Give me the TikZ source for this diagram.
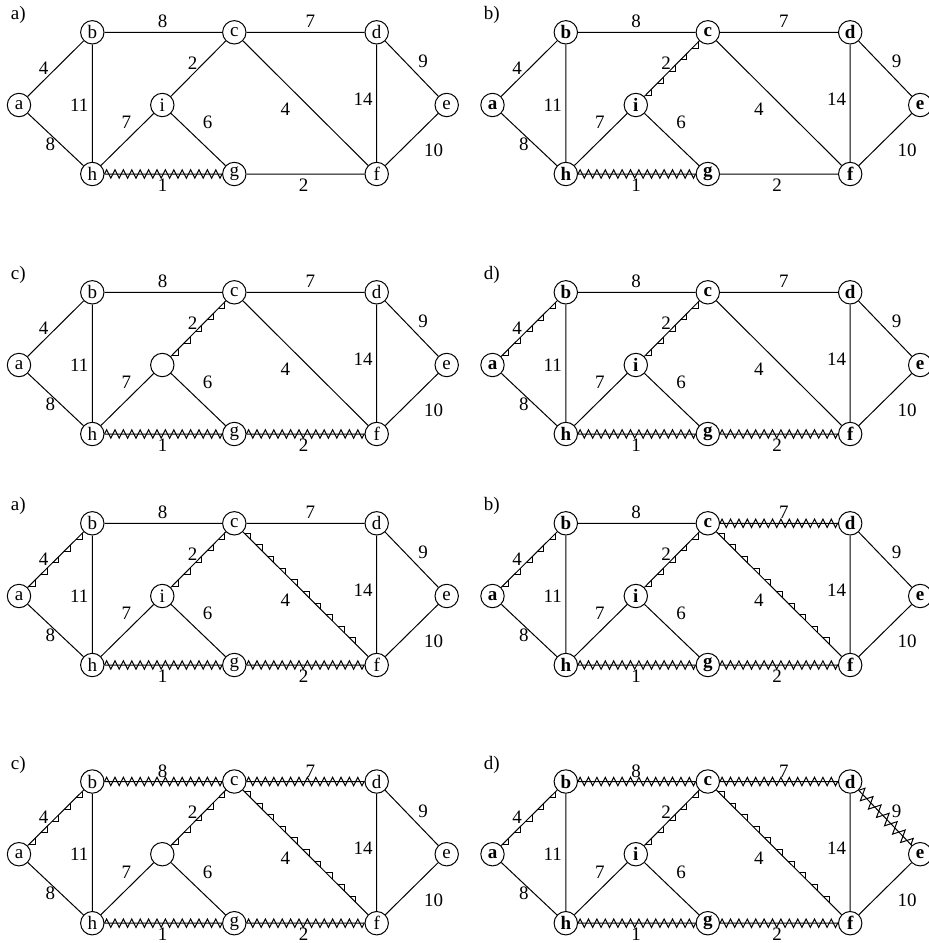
\documentclass[tikz,border=0pt]{standalone}
\usepackage{fontspec}
\setmainfont{Liberation Serif}
\usetikzlibrary{calc,decorations.pathmorphing}

\tikzset{
  vtx/.style={circle,draw,line width=0.5pt,minimum size=11.7pt,inner sep=0pt,
              font=\fontsize{9.5}{11}\selectfont},
  vtxb/.style={vtx,font=\fontsize{9.5}{11}\selectfont\bfseries},
  wt/.style={inner sep=0pt,font=\fontsize{9.5}{11}\selectfont},
  tag/.style={inner sep=0pt,font=\fontsize{9.5}{11}\selectfont},
  zz/.style={decorate,line width=0.5pt,
             decoration={zigzag,segment length=4.2pt,amplitude=2.1pt}},
  zzwide/.style={decorate,line width=0.5pt,
                 decoration={zigzag,segment length=5.8pt,amplitude=3pt}},
}

% the nine vertices, fourteen edges and weights of one panel (b sits at the origin)
\newcommand\basegraph[3]{%
  \node[tag] (tag) at (-74,-17) {#1};
  \node[#2] (a) at (-73.3,72.7) {a};
  \node[#2] (b) at (0,0) {b};
  \node[#2] (c) at (142,0) {c};
  \node[#2] (d) at (284.4,0) {d};
  \node[#2] (e) at (354.4,72.7) {e};
  \node[#2] (f) at (284.4,141.7) {f};
  \node[#2] (g) at (142,141.7) {g};
  \node[#2] (h) at (0,141.7) {h};
  \node[#2] (i) at (70,72.7) {#3};
  \draw[line width=0.5pt]
    (a) -- (b) (a) -- (h) (b) -- (c) (b) -- (h) (c) -- (d) (i) -- (c)
    (c) -- (f) (d) -- (e) (d) -- (f) (e) -- (f) (h) -- (i) (i) -- (g)
    (h) -- (g) (g) -- (f);
  \node[wt] (w-ab) at (-48.7,36) {4};
  \node[wt] (w-ah) at (-42,112) {8};
  \node[wt] (w-bh) at (-13,73) {11};
  \node[wt] (w-bc) at (70.3,-10.6) {8};
  \node[wt] (w-cd) at (218,-10.6) {7};
  \node[wt] (w-ci) at (100.3,31) {2};
  \node[wt] (w-hi) at (34,90.4) {7};
  \node[wt] (w-ig) at (115.3,90.4) {6};
  \node[wt] (w-cf) at (193,77) {4};
  \node[wt] (w-df) at (270.7,67) {14};
  \node[wt] (w-de) at (330.7,29.4) {9};
  \node[wt] (w-ef) at (341.3,118.4) {10};
  \node[wt] (w-hg) at (70.3,153) {1};
  \node[wt] (w-gf) at (211.3,153) {2};
}

% small axis-parallel steps along an edge
\newcommand\stairs[3]{%
  \foreach \k [evaluate=\k as \s using 7+8.25*\k,
               evaluate=\k as \t using 11.5+8.25*\k] in {0,...,#3}
    \draw[line width=0.5pt] ($(#1)!\s pt!(#2)$) -| ($(#1)!\t pt!(#2)$);
}

\begin{document}
\begin{tikzpicture}[x=0.5pt,y=-0.5pt]
  \useasboundingbox (0,0) rectangle (928,943);

  % row 1
  \begin{scope}[shift={(92.3,32.3)},name prefix=A-]
    \basegraph{a)}{vtx}{i}
    \draw[zz] (h) -- (g);
  \end{scope}
  \begin{scope}[shift={(565.8,32.3)},name prefix=B-]
    \basegraph{b)}{vtxb}{i}
    \draw[zz] (h) -- (g);
    \stairs{i}{c}{4}
  \end{scope}

  % row 2
  \begin{scope}[shift={(92.3,292.3)},name prefix=C-]
    \basegraph{c)}{vtx}{}
    \draw[zz] (h) -- (g);
    \draw[zz] (g) -- (f);
    \stairs{i}{c}{4}
  \end{scope}
  \begin{scope}[shift={(565.8,292.3)},name prefix=D-]
    \basegraph{d)}{vtxb}{i}
    \draw[zz] (h) -- (g);
    \draw[zz] (g) -- (f);
    \stairs{a}{b}{4}
    \stairs{i}{c}{4}
  \end{scope}

  % row 3
  \begin{scope}[shift={(92.3,523.3)},name prefix=E-]
    \basegraph{a)}{vtx}{i}
    \draw[zz] (h) -- (g);
    \draw[zz] (g) -- (f);
    \stairs{a}{b}{4}
    \stairs{i}{c}{4}
    \stairs{c}{f}{9}
  \end{scope}
  \begin{scope}[shift={(565.8,523.3)},name prefix=F-]
    \basegraph{b)}{vtxb}{i}
    \draw[zz] (h) -- (g);
    \draw[zz] (g) -- (f);
    \draw[zz] (c) -- (d);
    \stairs{a}{b}{4}
    \stairs{i}{c}{4}
    \stairs{c}{f}{9}
  \end{scope}

  % row 4
  \begin{scope}[shift={(92.3,781.5)},name prefix=G-]
    \basegraph{c)}{vtx}{}
    \draw[zz] (h) -- (g);
    \draw[zz] (g) -- (f);
    \draw[zz] (b) -- (c);
    \draw[zz] (c) -- (d);
    \stairs{a}{b}{4}
    \stairs{i}{c}{4}
    \stairs{c}{f}{9}
  \end{scope}
  \begin{scope}[shift={(565.8,781.5)},name prefix=H-]
    \basegraph{d)}{vtxb}{i}
    \draw[zz] (h) -- (g);
    \draw[zz] (g) -- (f);
    \draw[zz] (b) -- (c);
    \draw[zz] (c) -- (d);
    \draw[zzwide] (d) -- (e);
    \stairs{a}{b}{4}
    \stairs{i}{c}{4}
    \stairs{c}{f}{9}
  \end{scope}
\end{tikzpicture}
\end{document}
